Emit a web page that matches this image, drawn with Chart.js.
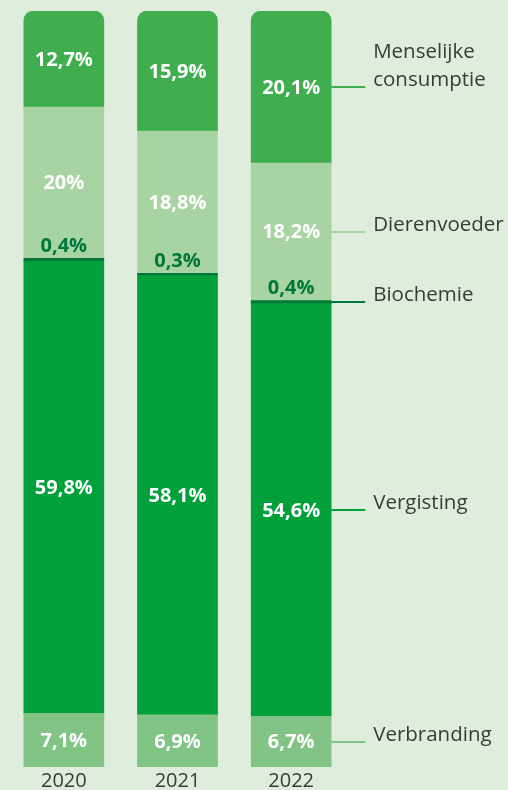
<!DOCTYPE html>
<html>
<head>
<meta charset="utf-8">
<script src="https://cdn.jsdelivr.net/npm/chart.js@4"></script>
<style>
  html, body { margin: 0; padding: 0; background: #dfeddd; }
  #wrap { width: 508px; height: 790px; position: relative; }
</style>
</head>
<body>
<div id="wrap"><canvas id="chart"></canvas></div>
<script>
// jaren
var years = ["2020", "2021", "2022"];

// aandelen in procenten, per toepassing (van onder naar boven)
var verbranding = [7.1, 6.9, 6.7];
var vergisting = [59.8, 58.1, 54.6];
var biochemie = [0.4, 0.3, 0.4];
var dierenvoeder = [20, 18.8, 18.2];
var menselijk = [12.7, 15.9, 20.1];

var seriesNames = ["Verbranding", "Vergisting", "Biochemie", "Dierenvoeder", "Menselijke consumptie"];
var seriesLegend = [["Verbranding"], ["Vergisting"], ["Biochemie"], ["Dierenvoeder"], ["Menselijke", "consumptie"]];
var seriesColors = ["#82c485", "#00a13a", "#00773a", "#a8d4a3", "#40ad4e"];

function fmt(v)
{
    return String(v).replace(".", ",") + "%";
}

const labelPlugin = {
    id: "labels",
    afterDatasetsDraw(chart) {
        const ctx = chart.ctx;
        ctx.save();
        chart.data.datasets.forEach((ds, i) => {
            const meta = chart.getDatasetMeta(i);
            meta.data.forEach((bar, j) => {
                const p = bar.getProps(["x", "y", "base", "width"], true);
                ctx.font = "bold 20px 'Open Sans', sans-serif";
                ctx.textAlign = "center";
                ctx.textBaseline = "middle";
                if (i == 2)
                {
                    ctx.fillStyle = "#00773a";
                    ctx.fillText(fmt(ds.data[j]), p.x, p.y - 12);
                }
                else
                {
                    ctx.fillStyle = "#ffffff";
                    ctx.fillText(fmt(ds.data[j]), p.x, (p.y + p.base) / 2 + 1);
                }
            });
            // verbindingslijn en naam bij de laatste staaf
            const last = meta.data[meta.data.length - 1].getProps(["x", "y", "base", "width"], true);
            const midY = Math.round((last.y + last.base) / 2);
            const x0 = last.x + last.width / 2;
            ctx.strokeStyle = ds.backgroundColor;
            ctx.lineWidth = 2;
            ctx.beginPath();
            ctx.moveTo(x0, midY);
            ctx.lineTo(x0 + 34, midY);
            ctx.stroke();
            ctx.font = "20.5px 'Open Sans', sans-serif";
            ctx.fillStyle = "#3a3a3a";
            ctx.textAlign = "left";
            ctx.textBaseline = "middle";
            const lines = seriesLegend[i];
            lines.forEach((t, k) => {
                ctx.fillText(t, x0 + 42, midY - 7 - (lines.length - 1 - k) * 28);
            });
        });
        ctx.restore();
    }
};

const datasets = [verbranding, vergisting, biochemie, dierenvoeder, menselijk].map((d, i) => ({
    label: seriesNames[i],
    data: d,
    backgroundColor: seriesColors[i],
    borderWidth: 0,
    barThickness: 80,
    borderSkipped: false,
    borderRadius: i == 4 ? {topLeft: 10, topRight: 10, bottomLeft: 0, bottomRight: 0} : 0
}));

new Chart(document.getElementById("chart"), {
    type: "bar",
    data: { labels: years, datasets: datasets },
    options: {
        responsive: true,
        maintainAspectRatio: false,
        animation: false,
        layout: { padding: { left: 7, right: 160, top: 11, bottom: 0 } },
        plugins: { legend: { display: false }, tooltip: { enabled: false } },
        scales: {
            x: {
                stacked: true,
                grid: { display: false, drawTicks: false },
                border: { display: false },
                ticks: { color: "#3a3a3a", padding: 3, font: { family: "'Open Sans', sans-serif", size: 20, lineHeight: 1.1 } },
                afterFit: (scale) => { scale.height = 23; }
            },
            y: {
                stacked: true,
                display: false,
                min: 0,
                max: 100
            }
        }
    },
    plugins: [labelPlugin]
});
</script>
</body>
</html>
